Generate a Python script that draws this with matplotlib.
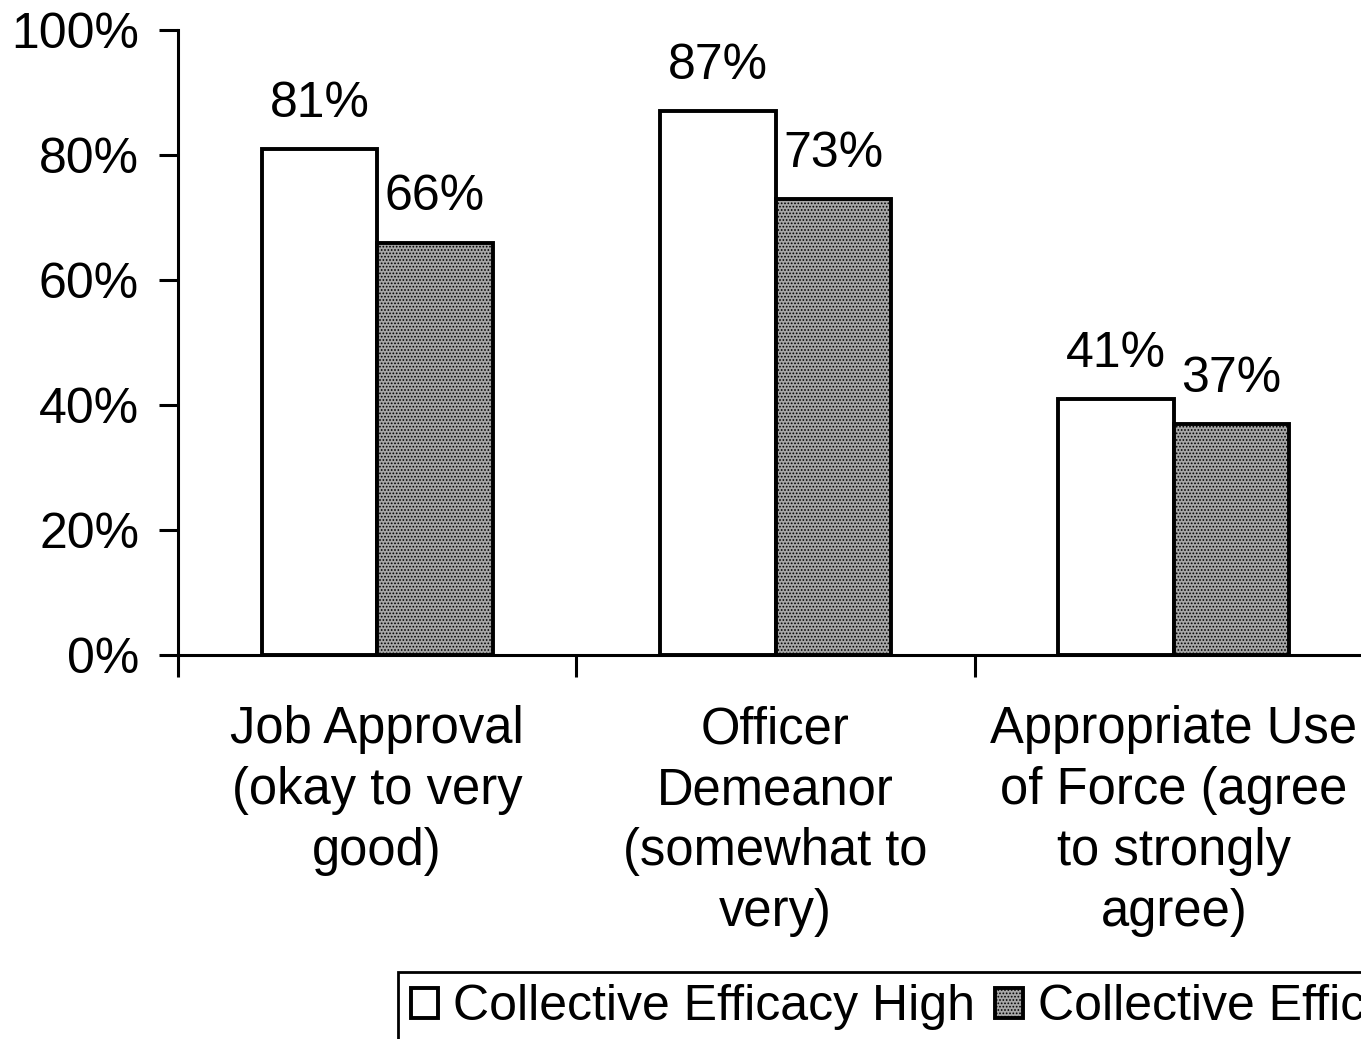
import matplotlib.pyplot as plt
import numpy as np

plt.rcParams['font.family'] = ['Liberation Sans', 'DejaVu Sans']
plt.rcParams['hatch.linewidth'] = 0.8

categorias = ["Job Approval\n(okay to very\ngood)",
              "Officer\nDemeanor\n(somewhat to\nvery)",
              "Appropriate Use\nof Force (agree\nto strongly\nagree)"]
alto = [81, 87, 41]
bajo = [66, 73, 37]
series = ["Collective Efficacy High", "Collective Efficacy Low"]

fig = plt.figure(figsize=(13.61, 10.39), dpi=100)
ax = fig.add_axes([178 / 1361, 1 - 655 / 1039, 1195 / 1361, 625 / 1039])

x = np.arange(len(categorias))
ancho = 0.29
b1 = ax.bar(x - ancho / 2, alto, ancho, color='white', edgecolor='black',
            linewidth=2.8, label=series[0])
b2 = ax.bar(x + ancho / 2, bajo, ancho, color='#a6a6a6', edgecolor='black',
            linewidth=2.8, hatch='.....', label=series[1])

# etiquetas de valor
for barras, vals in [(b1, alto), (b2, bajo)]:
    for b, v in zip(barras, vals):
        ax.annotate(f"{v}%", (b.get_x() + b.get_width() / 2, v),
                    xytext=(0, 16), textcoords='offset points',
                    ha='center', va='bottom', fontsize=36)

ax.set_xlim(-0.5, 2.5)
ax.set_ylim(0, 100)
ax.set_yticks(range(0, 101, 20))
ax.set_yticklabels([f"{t}%" for t in range(0, 101, 20)], fontsize=36)
ax.set_xticks([-0.5, 0.5, 1.5, 2.5])
ax.set_xticklabels([])
ax.tick_params(axis='y', length=14, width=2.2, pad=14)
ax.tick_params(axis='x', length=16, width=2.2)
for s in ['top', 'right']:
    ax.spines[s].set_visible(False)
for s in ['left', 'bottom']:
    ax.spines[s].set_linewidth(2.2)

for i, c in enumerate(categorias):
    ax.text(x[i], -8.0, c, ha='center', va='top', fontsize=36.5,
            linespacing=1.32, transform=ax.transData)

fig.legend(handles=[b1, b2], labels=series, loc='upper left',
           bbox_to_anchor=(398 / 1361, 1 - 972 / 1039), ncol=2,
           fontsize=36, frameon=True, fancybox=False, edgecolor='black',
           framealpha=1, handlelength=0.55, handleheight=0.55,
           handletextpad=0.3, columnspacing=0.4, borderpad=0.25,
           borderaxespad=0)
fig.legends[0].get_frame().set_linewidth(2)

fig.savefig("out.png", dpi=100)
